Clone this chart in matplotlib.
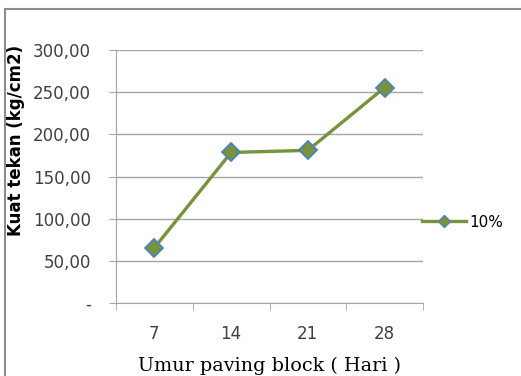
import matplotlib
matplotlib.use("Agg")
import matplotlib.pyplot as plt
from matplotlib.ticker import FuncFormatter, FixedLocator
from matplotlib.lines import Line2D

# umur (hari) dan kuat tekan paving block
umur = ["7", "14", "21", "28"]
kuat_tekan = [65.5, 178.5, 181.0, 255.5]
seri = "10%"

y_ticks = [0, 50, 100, 150, 200, 250, 300]


def fmt_id(v, pos):
    if v == 0:
        return "-"
    return f"{v:.2f}".replace(".", ",")


fig = plt.figure(figsize=(5.21, 3.76), dpi=100)
ax = fig.add_axes([116 / 521, 1 - 303 / 376, 307 / 521, 253 / 376])

x = list(range(len(umur)))
ax.plot(x, kuat_tekan, color="#77933C", linewidth=2.4, marker="D",
        markersize=9.5, markerfacecolor="#77933C", markeredgecolor="#4F81BD",
        markeredgewidth=1.3, zorder=3)

ax.set_xlim(-0.5, len(umur) - 0.5)
ax.set_ylim(0, 300)
ax.yaxis.set_major_locator(FixedLocator(y_ticks))
ax.yaxis.set_major_formatter(FuncFormatter(fmt_id))
ax.set_xticks(x)
ax.set_xticklabels(umur)
ax.xaxis.set_minor_locator(FixedLocator([i - 0.5 for i in range(len(umur) + 1)]))

ax.grid(axis="y", color="#A6A6A6", linewidth=1.0)
ax.set_axisbelow(True)
for s in ["top", "right"]:
    ax.spines[s].set_visible(False)
ax.spines["left"].set_color("#A6A6A6")
ax.spines["bottom"].set_color("#A6A6A6")
ax.tick_params(axis="y", length=5, color="#A6A6A6", labelsize=12,
               labelcolor="#404040", pad=13)
ax.tick_params(axis="x", which="major", length=0, labelsize=12,
               labelcolor="#404040", pad=16)
ax.tick_params(axis="x", which="minor", length=5, color="#A6A6A6")

ax.set_xlabel("Umur paving block ( Hari )", family="DejaVu Serif",
              fontsize=13.8, labelpad=10)
fig.text(0.031, 1 - 140 / 376, "Kuat tekan (kg/cm2)", rotation=90,
         ha="center", va="center", fontsize=12, fontweight="bold")

handle = Line2D([], [], color="#77933C", linewidth=2.4, marker="D",
                markersize=6, markerfacecolor="#77933C",
                markeredgecolor="#4F81BD")
fig.legend([handle], [seri], loc="center left",
           bbox_to_anchor=(408 / 521, 1 - 222 / 376), frameon=False,
           fontsize=11, handlelength=2.9, handletextpad=0.2)

# bingkai abu-abu di kiri dan atas
fig.add_artist(Line2D([5 / 521, 5 / 521], [0, 1 - 9 / 376],
                      color="#8C8C8C", linewidth=1.5))
fig.add_artist(Line2D([5 / 521, 1], [1 - 9 / 376, 1 - 9 / 376],
                      color="#8C8C8C", linewidth=1.5))

fig.savefig("out.png", dpi=100)
